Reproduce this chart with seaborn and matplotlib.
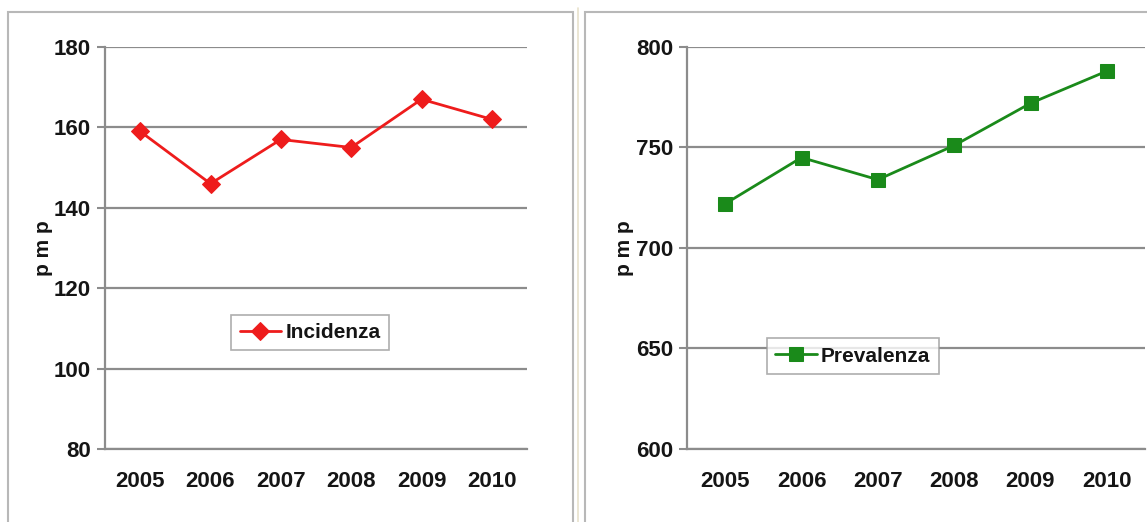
import matplotlib
matplotlib.use("Agg")
import matplotlib.pyplot as plt
from matplotlib.patches import Rectangle
from matplotlib import font_manager
import numpy as np
import pandas as pd
import seaborn as sns

years = ["2005", "2006", "2007", "2008", "2009", "2010"]
incidenza = [159, 146, 157, 155, 167, 162]
prevalenza = [722, 745, 734, 751, 772, 788]
y_label = "p m p"

sns.set_theme(style="white")
names = {f.name for f in font_manager.fontManager.ttflist}
family = "Liberation Sans Narrow" if "Liberation Sans Narrow" in names else "Liberation Sans"
plt.rcParams["font.family"] = [family, "DejaVu Sans"]
plt.rcParams["font.weight"] = "bold"
plt.rcParams["text.color"] = "#151515"
plt.rcParams["xtick.color"] = "#151515"
plt.rcParams["ytick.color"] = "#151515"
plt.rcParams["axes.labelcolor"] = "#151515"

W, H = 1147, 522
fig = plt.figure(figsize=(W / 100, H / 100), dpi=100)
fig.patch.set_facecolor("white")

# panel frames
for x0, x1 in [(8, 573), (585, 1160)]:
    fig.add_artist(Rectangle((x0 / W, -0.1), (x1 - x0) / W, (H - 12) / H + 0.1,
                             transform=fig.transFigure, fill=False,
                             edgecolor="#b8b8b8", linewidth=1.5))
fig.add_artist(plt.Line2D([578 / W, 578 / W], [0, (H - 8) / H],
                          transform=fig.transFigure, color="#e8e2cc", lw=1.2))


def panel(rect, values, label, color, marker, msize, ylim, step, loc):
    ax = fig.add_axes([rect[0] / W, 1 - rect[3] / H, (rect[2] - rect[0]) / W, (rect[3] - rect[1]) / H])
    df = pd.DataFrame({"year": years, "value": values})
    sns.lineplot(data=df, x="year", y="value", ax=ax, color=color, marker=marker,
                 markersize=msize, markeredgecolor=color, linewidth=2, label=label,
                 sort=False)
    ax.set_xlim(-0.5, len(years) - 0.5)
    ax.set_ylim(*ylim)
    ax.set_yticks(np.arange(ylim[0], ylim[1] + 1, step))
    ax.yaxis.grid(True, color="#8c8c8c", linewidth=1.6)
    ax.set_axisbelow(True)
    ax.set_xticks(np.arange(-0.5, len(years)), labels=[""] * (len(years) + 1))
    ax.set_xticks(range(len(years)), labels=years, minor=True)
    ax.tick_params(axis="x", which="major", length=7, width=1.5, color="#8c8c8c", direction="out")
    ax.tick_params(axis="x", which="minor", length=0, pad=16, labelsize=16, labelcolor="#151515")
    ax.tick_params(axis="y", length=6, width=1.5, color="#8c8c8c", labelsize=16, pad=4,
                   left=True, labelcolor="#151515")
    for lab in ax.get_xticklabels(minor=True) + ax.get_yticklabels():
        lab.set_fontweight("bold")
    for s in ["top", "right"]:
        ax.spines[s].set_visible(False)
    for s in ["left", "bottom"]:
        ax.spines[s].set_color("#8c8c8c")
        ax.spines[s].set_linewidth(1.6)
    ax.set_xlabel("")
    ax.set_ylabel(y_label, fontsize=15, fontweight="bold", labelpad=1)
    leg = ax.legend(loc="center", bbox_to_anchor=loc, frameon=True, fancybox=False,
                    handlelength=2.0, handletextpad=0.2, borderpad=0.4, borderaxespad=0,
                    prop={"weight": "bold", "size": 15})
    leg.get_frame().set_edgecolor("#9a9a9a")
    leg.get_frame().set_linewidth(1.2)
    return ax


panel((105, 47, 527, 449), incidenza, "Incidenza", "#ee1c1c", "D", 9, (80, 180), 20, (0.486, 0.29))
panel((687, 47, 1145, 449), prevalenza, "Prevalenza", "#1a8a1a", "s", 10, (600, 800), 50, (0.362, 0.231))

fig.savefig("out.png", dpi=100, facecolor="white")
